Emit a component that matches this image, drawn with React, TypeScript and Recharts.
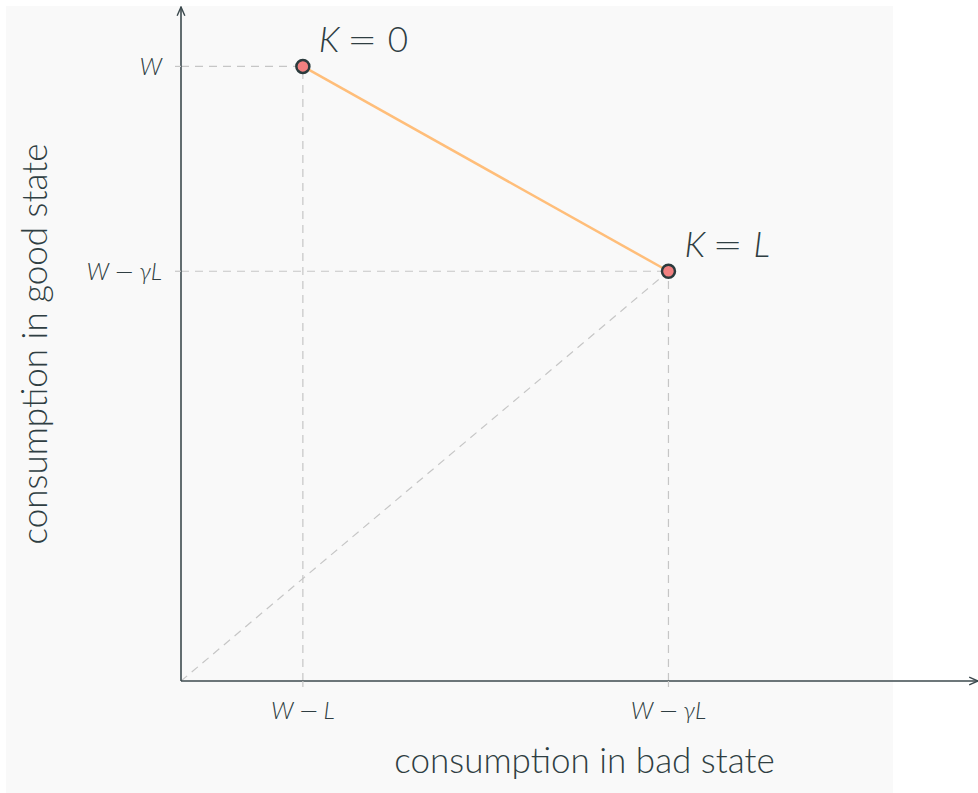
import React from "react";
import {
  ComposedChart,
  Line,
  XAxis,
  YAxis,
  LabelList,
} from "recharts";

// consumption (bad state, good state) at the two coverage choices
const pointNames = ["0", "L"];
const badStateValues = [25, 100];
const goodStateValues = [150, 100];

const xTickValues = [25, 100];
const xTickLabels = ["W − L", "W − γL"];
const yTickValues = [100, 150];
const yTickLabels = ["W − γL", "W"];

// 45 degree certainty line, from origin to full insurance
const diagonalValues = [0, 100];

const xDomain = [0, 163.5];
const yDomain = [0, 164.5];

const TEXT = "#2f3e42";
const AXIS = "#3c4a4e";
const GUIDE = "#c6c6c6";
const SANS = "Lato, 'Open Sans', sans-serif";

const budget = badStateValues.map((x, i) => ({
  x,
  y: goodStateValues[i],
  name: pointNames[i],
}));

const diagonal = diagonalValues.map((v) => ({ x: v, y: v }));

// dashed drop lines from each point to both axes
const guides = budget.flatMap((p) => [
  [
    { x: xDomain[0], y: p.y },
    { x: p.x, y: p.y },
  ],
  [
    { x: p.x, y: yDomain[0] },
    { x: p.x, y: p.y },
  ],
]);

// tick text: italic symbols, a wider upright minus between them
function MathLabel({ text }: { text: string }) {
  const parts = text.split(" ");
  return (
    <>
      {parts.map((p, i) =>
        p === "−" ? (
          <tspan key={i} dx={5} fontStyle="normal" fontFamily="'DejaVu Sans'" fontWeight={200}>
            −
          </tspan>
        ) : (
          <tspan key={i} dx={i === 0 ? undefined : 5}>
            {p}
          </tspan>
        )
      )}
    </>
  );
}

function XTick({ x, y, payload }: any) {
  const i = xTickValues.indexOf(payload.value);
  return (
    <text
      x={x}
      y={y}
      dy={29.5}
      textAnchor="middle"
      fill={TEXT}
      fontFamily={SANS}
      fontWeight={300}
      fontStyle="italic"
      fontSize={24}
    >
      <MathLabel text={xTickLabels[i]} />
    </text>
  );
}

function YTick({ x, y, payload }: any) {
  const i = yTickValues.indexOf(payload.value);
  return (
    <text
      x={x - 11}
      y={y}
      dy={9}
      textAnchor="end"
      fill={TEXT}
      fontFamily={SANS}
      fontWeight={300}
      fontStyle="italic"
      fontSize={24}
    >
      <MathLabel text={yTickLabels[i]} />
    </text>
  );
}

function PointLabel({ x, y, value }: any) {
  return (
    <text
      x={x + 16}
      y={y - 14}
      fill={TEXT}
      fontFamily={SANS}
      fontWeight={300}
      fontSize={35}
    >
      <tspan fontStyle="italic">K</tspan>
      <tspan dx={8} fontFamily="'DejaVu Sans'" fontWeight={200}>
        =
      </tspan>
      <tspan dx={11} fontStyle={value === "0" ? "normal" : "italic"}>
        {value}
      </tspan>
    </text>
  );
}

function XTitle({ viewBox }: any) {
  return (
    <text
      x={viewBox.x + viewBox.width / 2 + 5}
      y={viewBox.y + 92}
      textAnchor="middle"
      fill={TEXT}
      fontFamily={SANS}
      fontWeight={300}
      fontSize={35}
    >
      consumption in bad state
    </text>
  );
}

function YTitle({ viewBox }: any) {
  const cx = viewBox.x + viewBox.width - 148;
  const cy = viewBox.y + viewBox.height / 2;
  return (
    <text
      x={cx}
      y={cy}
      transform={`rotate(-90 ${cx} ${cy})`}
      textAnchor="middle"
      dominantBaseline="central"
      fill={TEXT}
      fontFamily={SANS}
      fontWeight={300}
      fontSize={35}
    >
      consumption in good state
    </text>
  );
}

export default function App() {
  return (
    <div
      style={{
        position: "absolute",
        left: 0,
        top: 0,
        width: 978,
        height: 793,
        background: "#ffffff",
      }}
    >
      <div
        style={{
          position: "absolute",
          left: 6,
          top: 6,
          width: 887,
          height: 787,
          background: "#f9f9f9",
        }}
      />
      <div style={{ position: "absolute", left: 0, top: 0 }}>
        <ComposedChart
          width={978}
          height={793}
          margin={{ top: 7, right: 0, bottom: 111, left: 180 }}
        >
          <defs>
            <marker
              id="axisArrow"
              viewBox="0 0 10 10"
              refX="9"
              refY="5"
              markerWidth="11"
              markerHeight="11"
              markerUnits="userSpaceOnUse"
              orient="auto-start-reverse"
            >
              <path d="M1,1.5 L9,5 L1,8.5" fill="none" stroke={AXIS} strokeWidth={1.3} />
            </marker>
          </defs>
          <XAxis
            type="number"
            dataKey="x"
            domain={xDomain}
            ticks={xTickValues}
            interval={0}
            height={1}
            allowDataOverflow
            axisLine={{ stroke: AXIS, strokeWidth: 1.6, markerEnd: "url(#axisArrow)" }}
            tickLine={{ stroke: GUIDE, strokeWidth: 1.2 }}
            tickSize={6}
            tick={<XTick />}
            label={<XTitle />}
          />
          <YAxis
            type="number"
            dataKey="y"
            domain={yDomain}
            ticks={yTickValues}
            interval={0}
            width={1}
            allowDataOverflow
            axisLine={{ stroke: AXIS, strokeWidth: 1.6, markerStart: "url(#axisArrow)" }}
            tickLine={{ stroke: GUIDE, strokeWidth: 1.2 }}
            tickSize={6}
            tick={<YTick />}
            label={<YTitle />}
          />
          {guides.map((seg, i) => (
            <Line
              key={`guide-${i}`}
              data={seg}
              dataKey="y"
              stroke={GUIDE}
              strokeWidth={1.2}
              strokeDasharray="8 6"
              dot={false}
              activeDot={false}
              isAnimationActive={false}
            />
          ))}
          <Line
            data={diagonal}
            dataKey="y"
            stroke={GUIDE}
            strokeWidth={1.2}
            strokeDasharray="8 6"
            dot={false}
            activeDot={false}
            isAnimationActive={false}
          />
          <Line
            data={budget}
            dataKey="y"
            stroke="#ffbe7a"
            strokeWidth={2.5}
            dot={{ r: 6.5, fill: "#f08080", stroke: "#2b3b3d", strokeWidth: 2.5 }}
            activeDot={false}
            isAnimationActive={false}
          >
            <LabelList dataKey="name" content={<PointLabel />} />
          </Line>
        </ComposedChart>
      </div>
    </div>
  );
}
